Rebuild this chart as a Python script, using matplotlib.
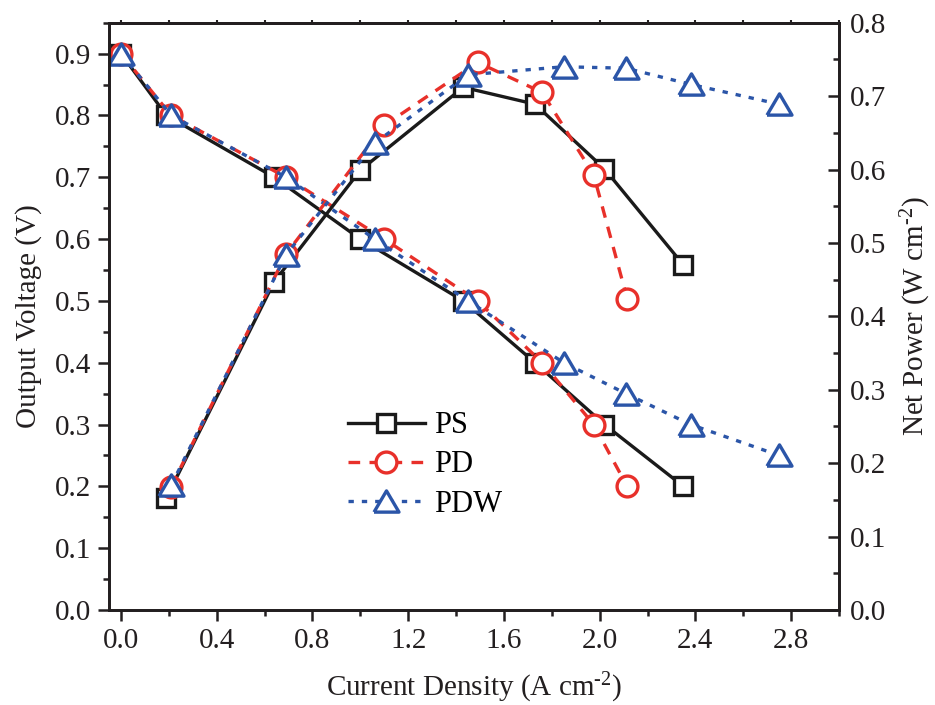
import matplotlib
matplotlib.use("Agg")
import matplotlib.pyplot as plt
from matplotlib.ticker import MultipleLocator, FormatStrFormatter

plt.rcParams["font.family"] = ["Liberation Serif", "DejaVu Serif"]
plt.rcParams["mathtext.fontset"] = "custom"
plt.rcParams["mathtext.rm"] = "Liberation Serif"
plt.rcParams["mathtext.it"] = "Liberation Serif:italic"

# voltage curves (left axis)
ps_j = [0.0, 0.19, 0.64, 1.0, 1.43, 1.73, 2.02, 2.35]
ps_v = [0.9, 0.8, 0.7, 0.6, 0.5, 0.4, 0.3, 0.2]
pd_j = [0.0, 0.21, 0.69, 1.1, 1.49, 1.76, 1.975, 2.115]
pd_v = [0.9, 0.8, 0.7, 0.6, 0.5, 0.4, 0.3, 0.2]
pdw_j = [0.0, 0.21, 0.69, 1.06, 1.45, 1.85, 2.11, 2.38, 2.75]
pdw_v = [0.9, 0.8, 0.7, 0.6, 0.5, 0.4, 0.35, 0.3, 0.25]

# net power curves (right axis)
ps_pj = [0.19, 0.64, 1.0, 1.43, 1.73, 2.02, 2.35]
ps_p = [0.153, 0.447, 0.599, 0.712, 0.689, 0.601, 0.470]
pd_pj = [0.21, 0.69, 1.1, 1.49, 1.76, 1.975, 2.115]
pd_p = [0.168, 0.485, 0.66, 0.746, 0.705, 0.593, 0.424]
pdw_pj = [0.21, 0.69, 1.06, 1.45, 1.85, 2.11, 2.38, 2.75]
pdw_p = [0.170, 0.484, 0.636, 0.729, 0.740, 0.738, 0.716, 0.689]

names = ["PS", "PD", "PDW"]
ink = "#231f20"
black = "#1a1a1a"
red = "#e8302a"
blue = "#2b55a8"
tri = [(-1, -0.85), (1, -0.85), (0, 0.85), (-1, -0.85)]

styles = [
    dict(color=black, ls="-", marker="s", ms=13, mew=2.4, mfc="white"),
    dict(color=red, ls=(0, (3.5, 2.8)), marker="o", ms=15, mew=2.4, mfc="white"),
    dict(color=blue, ls=(0, (1.6, 2.4)), marker=tri, ms=18, mew=2.4, mfc="white"),
]

fig = plt.figure(figsize=(9.35, 7.05), dpi=100)
ax = fig.add_axes([0.1166, 0.1348, 0.7807, 0.833])
ax2 = ax.twinx()

volt = [(ps_j, ps_v), (pd_j, pd_v), (pdw_j, pdw_v)]
power = [(ps_pj, ps_p), (pd_pj, pd_p), (pdw_pj, pdw_p)]
handles = []
for (x, y), st, name in zip(volt, styles, names):
    h, = ax.plot(x, y, lw=2.4, label=name, **st)
    handles.append(h)
for (x, y), st in zip(power, styles):
    ax2.plot(x, y, lw=2.4, **st)

ax.set_xlim(-0.05, 3.0)
ax.set_ylim(0, 0.95)
ax2.set_ylim(0, 0.8)

ax.xaxis.set_major_locator(MultipleLocator(0.4))
ax.xaxis.set_minor_locator(MultipleLocator(0.2))
ax.xaxis.set_major_formatter(FormatStrFormatter("%.1f"))
ax.yaxis.set_major_locator(MultipleLocator(0.1))
ax.yaxis.set_minor_locator(MultipleLocator(0.05))
ax.yaxis.set_major_formatter(FormatStrFormatter("%.1f"))
ax2.yaxis.set_major_locator(MultipleLocator(0.1))
ax2.yaxis.set_minor_locator(MultipleLocator(0.05))
ax2.yaxis.set_major_formatter(FormatStrFormatter("%.1f"))

for a in (ax, ax2):
    for s in a.spines.values():
        s.set_linewidth(2.0)
        s.set_color(ink)
ax.tick_params(axis="both", which="major", direction="out", length=8, width=1.8,
               labelsize=21, colors=ink, pad=5)
ax.tick_params(axis="both", which="minor", direction="out", length=4.5, width=1.8, colors=ink)
ax2.tick_params(axis="y", which="major", direction="in", length=8, width=1.8,
                labelsize=21, colors=ink, pad=8)
ax2.tick_params(axis="y", which="minor", direction="in", length=4.5, width=1.8, colors=ink)

# tiny ticks on the top spine
top = ax.secondary_xaxis("top")
top.xaxis.set_major_locator(MultipleLocator(0.4))
top.xaxis.set_minor_locator(MultipleLocator(0.2))
top.tick_params(which="both", direction="out", length=2.5, width=1.5, colors=ink,
                labeltop=False)
top.spines["top"].set_linewidth(2.0)
top.spines["top"].set_color(ink)

ax.set_xlabel(r"Current Density (A cm$^{\text{-2}}$)", fontsize=21, color=ink, labelpad=12)
ax.set_ylabel("Output Voltage (V)", fontsize=21, color=ink, labelpad=9)
ax2.set_ylabel(r"Net Power (W cm$^{\text{-2}}$)", fontsize=21, color=ink, labelpad=9)

ax.legend(handles=handles, loc="upper left", bbox_to_anchor=(0.29, 0.385),
          frameon=False, fontsize=22, handlelength=2.5, handletextpad=0.3,
          labelspacing=0.33, numpoints=1)

fig.savefig("out.png", dpi=100)
